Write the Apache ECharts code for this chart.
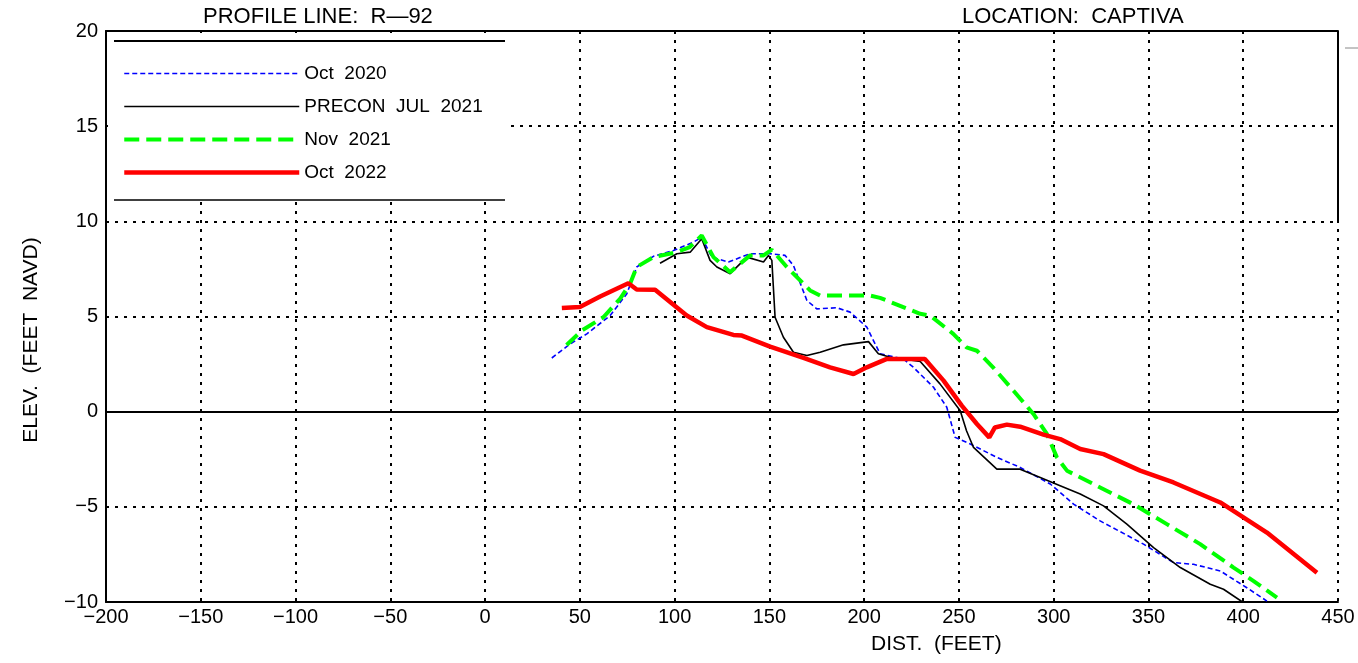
<!DOCTYPE html>
<html><head><meta charset="utf-8">
<script src="https://cdn.jsdelivr.net/npm/echarts@6/dist/echarts.min.js"></script>
<style>html,body{margin:0;padding:0;background:#fff}#c{width:1358px;height:663px}</style>
</head><body><div id="c"></div>
<script>
const FONT = '"Liberation Sans",Arial,sans-serif';
const titleLeft = 'PROFILE LINE:  R\u201492';
const titleRight = 'LOCATION:  CAPTIVA';
const xName = 'DIST.  (FEET)';
const yName = 'ELEV.  (FEET  NAVD)';
const seriesNames = ['Oct 2020', 'PRECON JUL 2021', 'Nov 2021', 'Oct 2022'];
const legendLabels = ['Oct  2020', 'PRECON  JUL  2021', 'Nov  2021', 'Oct  2022'];
const xTicks = {min: -200, max: 450, interval: 50};
const yTicks = {min: -10, max: 20, interval: 5};

const oct2020 = [[35.2,2.82],[44.9,3.56],[53.7,4.09],[66,5.05],[74.8,6.2],[80,7.6],[88.8,8.16],[99.4,8.47],[110,8.91],[114.3,9.17],[119.6,8.12],[128.4,7.86],[139.8,8.3],[150.4,8.3],[158.3,8.21],[162.7,7.68],[169.8,5.84],[175,5.4],[185.6,5.46],[192.6,5.23],[201.4,4.44],[208.4,3.04],[220.7,2.77],[226,2.33],[236.6,1.28],[243.6,0.23],[248,-1.35],[256,-1.7],[270,-2.4],[282.3,-2.93],[298.2,-3.8],[310.5,-4.86],[324.5,-5.74],[347.4,-6.96],[363.2,-7.93],[373.8,-8.02],[387.9,-8.37],[401.9,-9.25],[412.5,-9.95]];
const precon2021 = [[92.3,7.8],[101.2,8.3],[108.2,8.38],[114.3,9.09],[118.7,7.95],[122.3,7.6],[129.3,7.25],[138.1,8.12],[146.9,7.86],[149.5,8.21],[151.3,7.95],[153,4.96],[157.4,3.91],[162.7,3.12],[169.8,2.95],[176.8,3.12],[189.1,3.51],[202.3,3.68],[207.5,3.04],[213.7,2.86],[229.6,2.64],[240,1.46],[250.7,0.05],[254,-1.0],[257.7,-1.88],[270,-3.02],[282.3,-3.02],[292.9,-3.46],[303.4,-3.89],[314,-4.33],[326.3,-4.95],[338.6,-5.91],[352.7,-7.14],[366.8,-8.19],[382.6,-9.07],[389.6,-9.33],[400.2,-10.04]];
const nov2021 = [[43,3.5],[51,4.26],[62.4,4.96],[71.2,5.93],[76.5,6.72],[80,7.6],[88.8,8.12],[101.2,8.38],[108,8.65],[114.3,9.26],[120.5,8.12],[129.3,7.33],[139.8,8.21],[146.9,8.21],[151.3,8.51],[159.2,7.6],[171.5,6.37],[176.8,6.1],[203.2,6.1],[208.4,5.98],[229.6,5.14],[234.8,5.05],[247,4.09],[254,3.38],[259.5,3.2],[268,2.33],[278.8,1.1],[289.3,-0.12],[296.4,-1.17],[301.7,-2.4],[307,-3.1],[324.5,-3.98],[342,-4.86],[359.7,-5.91],[377.3,-6.96],[394.9,-8.19],[405.5,-8.9],[417.8,-9.77]];
const oct2022 = [[40.5,5.45],[50,5.5],[60.7,6.05],[75.6,6.75],[80,6.42],[89.7,6.4],[106.4,5.05],[117,4.44],[131,4.03],[135.5,4.0],[150.4,3.42],[168,2.82],[182,2.33],[194.4,1.98],[201.4,2.33],[212,2.77],[232,2.77],[241.9,1.63],[251.5,0.32],[259.5,-0.65],[266,-1.35],[269,-0.83],[275.3,-0.68],[282.3,-0.79],[294.6,-1.21],[303.4,-1.44],[314,-1.96],[326.3,-2.23],[345.6,-3.1],[363.2,-3.72],[387.9,-4.77],[412.5,-6.35],[438.9,-8.46]];

const minus = v => String(v).replace('-', '\u2212');
const gridLine = {show: true, lineStyle: {color: '#000', width: 2, type: [3, 6]}};
const styles = [
  {color: '#0000ff', width: 1.6, type: [5, 3]},
  {color: '#000000', width: 1.6, type: 'solid'},
  {color: '#00ff00', width: 4, type: [15, 7]},
  {color: '#ff0000', width: 4.5, type: 'solid'}
];
const dataSets = [oct2020, precon2021, nov2021, oct2022];

const chart = echarts.init(document.getElementById('c'), null, {renderer: 'canvas'});
chart.setOption({
  animation: false,
  backgroundColor: '#fff',
  textStyle: {fontFamily: FONT},
  grid: {left: 106, right: 20, top: 31, bottom: 61, containLabel: false},
  xAxis: [{
    type: 'value', min: xTicks.min, max: xTicks.max, interval: xTicks.interval,
    axisLine: {show: true, onZero: false, lineStyle: {color: '#000', width: 2}},
    axisTick: {show: false},
    axisLabel: {color: '#000', fontSize: 20, fontFamily: FONT, margin: 5, formatter: minus},
    splitLine: gridLine
  }, {
    type: 'value', position: 'top', min: xTicks.min, max: xTicks.max, interval: xTicks.interval,
    axisLine: {show: true, onZero: false, lineStyle: {color: '#000', width: 2}},
    axisTick: {show: false}, axisLabel: {show: false}, splitLine: {show: false}
  }],
  yAxis: {
    type: 'value', min: yTicks.min, max: yTicks.max, interval: yTicks.interval,
    axisLine: {show: true, onZero: false, lineStyle: {color: '#000', width: 2}},
    axisTick: {show: false},
    axisLabel: {color: '#000', fontSize: 20, fontFamily: FONT, margin: 8, formatter: minus},
    splitLine: gridLine
  },
  legend: {
    orient: 'vertical', left: 117, top: 59, itemWidth: 175, itemHeight: 18, itemGap: 14,
    itemStyle: {opacity: 0},
    formatter: name => legendLabels[seriesNames.indexOf(name)],
    textStyle: {color: '#000', fontSize: 19, fontFamily: FONT, lineHeight: 18, padding: [0,0,0,0]},
    data: seriesNames.map((n, i) => ({name: n, lineStyle: {color: styles[i].color, width: styles[i].width, type: styles[i].type}}))
  },
  graphic: [
    {type: 'rect', z: 1, shape: {x: 108, y: 33, width: 397, height: 167}, style: {fill: '#fff'}, silent: true},
    {type: 'line', z: 3, shape: {x1: 114, y1: 41, x2: 505, y2: 41}, style: {stroke: '#000', lineWidth: 2}, silent: true},
    {type: 'line', z: 3, shape: {x1: 114, y1: 200, x2: 505, y2: 200}, style: {stroke: '#000', lineWidth: 1.5}, silent: true},
    {type: 'line', z: 3, shape: {x1: 1345, y1: 48, x2: 1358, y2: 48}, style: {stroke: '#888', lineWidth: 1}, silent: true},
    {type: 'text', left: 203, top: 6, style: {text: titleLeft, fill: '#000', font: '22px ' + FONT}},
    {type: 'text', left: 962, top: 6, style: {text: titleRight, fill: '#000', font: '22px ' + FONT}},
    {type: 'text', left: 871, top: 634, style: {text: xName, fill: '#000', font: '21px ' + FONT}},
    {type: 'text', x: 31, y: 340, rotation: Math.PI / 2, style: {text: yName, fill: '#000', font: '21px ' + FONT, textAlign: 'center', textVerticalAlign: 'middle'}}
  ],
  series: dataSets.map((d, i) => {
    const s = {name: seriesNames[i], type: 'line', data: d, symbol: 'none', z: 3 + i,
      lineStyle: styles[i], itemStyle: {color: styles[i].color}};
    if (i === 0) {
      s.markLine = {silent: true, symbol: 'none', label: {show: false},
        data: [{yAxis: 0, lineStyle: {color: '#000', width: 2, type: 'solid'}},
               [{coord: [xTicks.max, yTicks.max], lineStyle: {color: '#000', width: 2, type: 'solid'}}, {coord: [xTicks.max, 10]}]]};
    }
    return s;
  })
});
</script></body></html>
